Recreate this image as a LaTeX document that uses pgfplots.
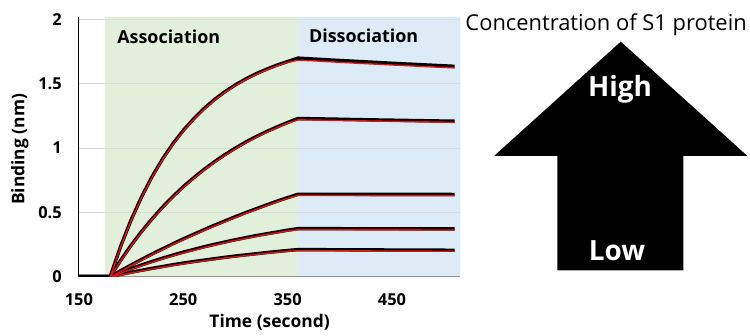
\documentclass[border=0pt]{standalone}
\usepackage{fontspec}
\setmainfont{Open Sans}
\usepackage{pgfplots}
\pgfplotsset{compat=1.18}
\definecolor{assocgreen}{RGB}{226,239,218}
\definecolor{dissblue}{RGB}{221,235,247}
\definecolor{fitred}{RGB}{220,20,20}
\definecolor{gridgray}{RGB}{220,220,220}

\begin{document}
\begin{tikzpicture}
\begin{axis}[
  at={(79bp,59bp)}, anchor=south west,
  scale only axis, width=382bp, height=260bp,
  xmin=150, xmax=515.5, ymin=0, ymax=2.02,
  axis x line*=bottom, axis y line*=left,
  axis line style={black, line width=1bp},
  xtick={150,250,350,450}, xticklabels={150,250,350,450},
  ytick={0,0.5,1,1.5,2}, yticklabels={0,0.5,1,1.5,2},
  major tick length=0pt,
  tick label style={font=\bfseries\fontsize{16.5}{16.5}\selectfont, inner sep=0pt},
  xticklabel style={anchor=north, yshift=-17bp},
  yticklabel style={anchor=east, xshift=-17bp},
  xlabel={Time (second)}, ylabel={Binding (nm)},
  every axis label/.append style={font=\bfseries\fontsize{17.5}{17.5}\selectfont},
  xlabel style={at={(axis description cs:0.5,-0.176)}, anchor=center},
  ylabel style={at={(axis description cs:-0.155,0.49)}, anchor=center},
  blk/.style={black, line width=3.4bp, line join=round},
  fitline/.style={fitred, line width=1.4bp, line join=round, yshift=-0.8bp},
]
\addplot[draw=none, fill=assocgreen] coordinates {(175,0) (175,2.02) (360,2.02) (360,0)} \closedcycle;
\addplot[draw=none, fill=dissblue] coordinates {(360,0) (360,2.02) (515.5,2.02) (515.5,0)} \closedcycle;
\draw[gridgray, line width=0.8bp] (axis cs:150,0.5) -- (axis cs:515.5,0.5);
\draw[gridgray, line width=0.8bp] (axis cs:150,1) -- (axis cs:515.5,1);
\draw[gridgray, line width=0.8bp] (axis cs:150,1.5) -- (axis cs:515.5,1.5);
\draw[gridgray, line width=0.8bp] (axis cs:150,2) -- (axis cs:515.5,2);
\addplot[blk] coordinates {(150,0)(180,0)(190,0.235)(200,0.440)(210,0.619)(220,0.776)(230,0.913)(240,1.033)(250,1.137)(260,1.228)(270,1.308)(280,1.378)(290,1.439)(300,1.492)(310,1.538)(320,1.579)(330,1.614)(340,1.646)(350,1.673)(360,1.700)(375,1.693)(390,1.686)(420,1.673)(450,1.660)(480,1.648)(510,1.636)};
\addplot[blk] coordinates {(150,0)(180,0)(190,0.126)(200,0.243)(210,0.350)(220,0.448)(230,0.539)(240,0.622)(250,0.699)(260,0.769)(270,0.834)(280,0.894)(290,0.949)(300,1.000)(310,1.047)(320,1.090)(330,1.129)(340,1.165)(350,1.199)(360,1.230)(375,1.228)(390,1.226)(420,1.221)(450,1.217)(480,1.213)(510,1.209)};
\addplot[blk] coordinates {(150,0)(180,0)(190,0.046)(200,0.090)(210,0.133)(220,0.175)(230,0.215)(240,0.255)(250,0.293)(260,0.329)(270,0.365)(280,0.400)(290,0.433)(300,0.466)(310,0.498)(320,0.528)(330,0.558)(340,0.587)(350,0.614)(360,0.641)(375,0.641)(390,0.641)(420,0.640)(450,0.640)(480,0.640)(510,0.639)};
\addplot[blk] coordinates {(150,0)(180,0)(190,0.032)(200,0.062)(210,0.090)(220,0.117)(230,0.143)(240,0.167)(250,0.190)(260,0.211)(270,0.232)(280,0.251)(290,0.269)(300,0.287)(310,0.303)(320,0.319)(330,0.333)(340,0.347)(350,0.361)(360,0.373)(375,0.373)(390,0.373)(420,0.372)(450,0.372)(480,0.371)(510,0.371)};
\addplot[blk] coordinates {(150,0)(180,0)(190,0.017)(200,0.034)(210,0.049)(220,0.064)(230,0.078)(240,0.092)(250,0.105)(260,0.117)(270,0.128)(280,0.139)(290,0.150)(300,0.160)(310,0.169)(320,0.178)(330,0.187)(340,0.195)(350,0.203)(360,0.210)(375,0.210)(390,0.209)(420,0.208)(450,0.207)(480,0.206)(510,0.205)};
\addplot[fitline] coordinates {(180,0)(190,0.235)(200,0.440)(210,0.619)(220,0.776)(230,0.913)(240,1.033)(250,1.137)(260,1.228)(270,1.308)(280,1.378)(290,1.439)(300,1.492)(310,1.538)(320,1.579)(330,1.614)(340,1.646)(350,1.673)(360,1.690)(375,1.685)(390,1.678)(420,1.665)(450,1.653)(480,1.641)(510,1.630)};
\addplot[fitline] coordinates {(180,0)(190,0.126)(200,0.243)(210,0.350)(220,0.448)(230,0.539)(240,0.622)(250,0.699)(260,0.769)(270,0.834)(280,0.894)(290,0.949)(300,1.000)(310,1.047)(320,1.090)(330,1.129)(340,1.165)(350,1.199)(360,1.226)(375,1.224)(390,1.222)(420,1.218)(450,1.214)(480,1.210)(510,1.206)};
\addplot[fitline] coordinates {(180,0)(190,0.046)(200,0.090)(210,0.133)(220,0.175)(230,0.215)(240,0.255)(250,0.293)(260,0.329)(270,0.365)(280,0.400)(290,0.433)(300,0.466)(310,0.498)(320,0.528)(330,0.558)(340,0.587)(350,0.614)(360,0.638)(375,0.638)(390,0.637)(420,0.637)(450,0.636)(480,0.636)(510,0.635)};
\addplot[fitline] coordinates {(180,0)(190,0.032)(200,0.062)(210,0.090)(220,0.117)(230,0.143)(240,0.167)(250,0.190)(260,0.211)(270,0.232)(280,0.251)(290,0.269)(300,0.287)(310,0.303)(320,0.319)(330,0.333)(340,0.347)(350,0.361)(360,0.371)(375,0.371)(390,0.371)(420,0.370)(450,0.370)(480,0.369)(510,0.369)};
\addplot[fitline] coordinates {(180,0)(190,0.017)(200,0.034)(210,0.049)(220,0.064)(230,0.078)(240,0.092)(250,0.105)(260,0.117)(270,0.128)(280,0.139)(290,0.150)(300,0.160)(310,0.169)(320,0.178)(330,0.187)(340,0.195)(350,0.203)(360,0.208)(375,0.208)(390,0.207)(420,0.206)(450,0.205)(480,0.204)(510,0.203)};
\end{axis}
\node[anchor=west, font=\bfseries\fontsize{18}{18}\selectfont] at (114bp,299.5bp) {Association};
\node[anchor=west, font=\bfseries\fontsize{18}{18}\selectfont] at (306bp,300bp) {Dissociation};
\node[font=\fontsize{22}{22}\selectfont] at (607bp,311bp) {Concentration of S1 protein};
\fill[black] (621.7bp,294.3bp) -- (748.3bp,180bp) -- (684.3bp,180bp) -- (684.3bp,65.3bp)
  -- (558.3bp,65.3bp) -- (558.3bp,180bp) -- (495bp,180bp) -- cycle;
\node[white, font=\bfseries\fontsize{28}{28}\selectfont] at (621bp,246.7bp) {High};
\node[white, font=\bfseries\fontsize{28}{28}\selectfont] at (618bp,85.3bp) {Low};
\path[use as bounding box] (0,0) rectangle (750bp,336bp);
\end{tikzpicture}
\end{document}
